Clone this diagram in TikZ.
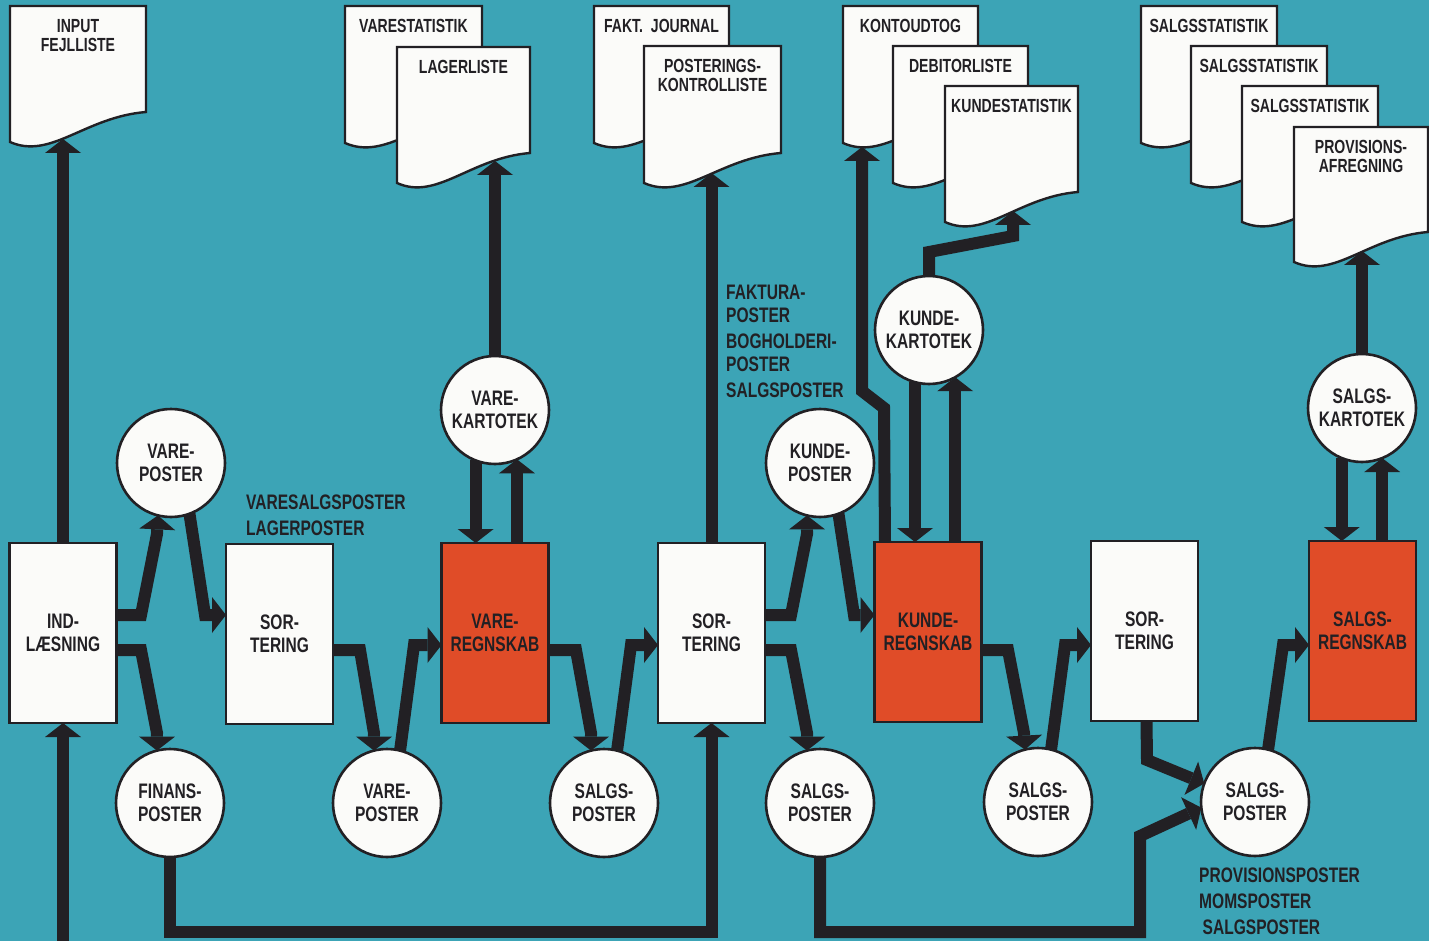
\documentclass[tikz,border=0pt]{standalone}
\usepackage{fontspec}
\setmainfont[FakeStretch=0.74]{Liberation Sans}
\usetikzlibrary{arrows.meta,calc}
\pgfdeclarelayer{bg}
\pgfsetlayers{bg,main}
\definecolor{sea}{RGB}{60,164,182}
\definecolor{brick}{RGB}{224,76,40}
\definecolor{ink}{RGB}{34,32,36}
\definecolor{paper}{RGB}{251,251,249}
\newcommand\lbl{\fontsize{21}{23}\selectfont\bfseries}
\newcommand\dlbl{\fontsize{19}{19}\selectfont\bfseries}
\newcommand\docsheet[4]{%
  \filldraw[doc] ({#1},{#2}) -- ({#3},{#2}) -- ({#3},{#4-30})
    .. controls ({#1+0.55*(#3-#1)},{#4-25}) and ({#1+0.3*(#3-#1)},{#4+18}) .. ({#1},{#4}) -- cycle;}
\begin{document}
\begin{tikzpicture}[x=1pt,y=-1pt,
  box/.style={draw=ink, line width=2.6pt, minimum width=107pt, minimum height=180pt,
    inner sep=0pt, outer sep=0pt, align=center, font=\lbl, text=ink},
  proc/.style={box, fill=paper},
  acct/.style={box, fill=brick},
  store/.style={circle, draw=ink, fill=paper, line width=2.6pt, minimum size=108pt,
    inner sep=0pt, outer sep=0pt, align=center, font=\lbl, text=ink},
  doc/.style={draw=ink, fill=paper, line width=2.4pt, line join=miter},
  doclabel/.style={anchor=north, inner sep=0pt, align=center, font=\dlbl, text=ink},
  note/.style={anchor=north west, inner sep=0pt, align=left, font=\lbl, text=ink},
  flow/.style={draw=ink, line width=12pt, line join=miter,
    -{Triangle[width=36pt,length=14pt,line width=0pt]}}]
\begin{pgfonlayer}{bg}
  \fill[sea] (0,0) rectangle (1429,941);
\end{pgfonlayer}
\useasboundingbox (0,0) rectangle (1429,941);

% documents
\docsheet{10}{6}{146}{142}
\node[doclabel] (d1) at (78,19) {INPUT\\FEJLLISTE};
\docsheet{345}{6}{482}{143}
\node[doclabel] (d2) at (413.5,19) {VARESTATISTIK};
\docsheet{397}{47}{530}{183}
\node[doclabel] (d3) at (463.5,60) {LAGERLISTE};
\docsheet{594}{6}{729}{143}
\node[doclabel] (d4) at (661.5,19) {FAKT.~~JOURNAL};
\docsheet{644}{46}{781}{183}
\node[doclabel] (d5) at (712.5,59) {POSTERINGS-\\KONTROLLISTE};
\docsheet{843}{6}{978}{143}
\node[doclabel] (d6) at (910.5,19) {KONTOUDTOG};
\docsheet{893}{46}{1028}{183}
\node[doclabel] (d7) at (960.5,59) {DEBITORLISTE};
\docsheet{945}{86}{1078}{222}
\node[doclabel] (d8) at (1011.5,99) {KUNDESTATISTIK};
\docsheet{1141}{6}{1277}{143}
\node[doclabel] (d9) at (1209,19) {SALGSSTATISTIK};
\docsheet{1191}{46}{1327}{183}
\node[doclabel] (d10) at (1259,59) {SALGSSTATISTIK};
\docsheet{1242}{86}{1378}{222}
\node[doclabel] (d11) at (1310,99) {SALGSSTATISTIK};
\docsheet{1294}{127}{1428}{262}
\node[doclabel] (d12) at (1361,140) {PROVISIONS-\\AFREGNING};

% process boxes
\node[proc] (ind)   at (63,633)     {IND-\\LÆSNING};
\node[proc] (sort1) at (279.5,634)  {SOR-\\TERING};
\node[acct] (vreg)  at (495,633)    {VARE-\\REGNSKAB};
\node[proc] (sort2) at (711.5,633)  {SOR-\\TERING};
\node[acct] (kreg)  at (928,632)    {KUNDE-\\REGNSKAB};
\node[proc] (sort3) at (1144.5,631) {SOR-\\TERING};
\node[acct] (sreg)  at (1362.5,631) {SALGS-\\REGNSKAB};

% stores
\node[store] (vp1) at (171,463)  {VARE-\\POSTER};
\node[store] (fp)  at (170,803)  {FINANS-\\POSTER};
\node[store] (vp2) at (387,803)  {VARE-\\POSTER};
\node[store] (vk)  at (495,410)  {VARE-\\KARTOTEK};
\node[store] (sp1) at (604,803)  {SALGS-\\POSTER};
\node[store] (kp)  at (820,463)  {KUNDE-\\POSTER};
\node[store] (sp2) at (820,803)  {SALGS-\\POSTER};
\node[store] (kk)  at (929,330)  {KUNDE-\\KARTOTEK};
\node[store] (sp3) at (1038,802) {SALGS-\\POSTER};
\node[store] (sp4) at (1255,802) {SALGS-\\POSTER};
\node[store] (sk)  at (1362,408) {SALGS-\\KARTOTEK};

% free labels
\node[note] (n1) at (246,495) {VARESALGSPOSTER\\[3pt]LAGERPOSTER};
\node[note] (n2) at (726,285) {FAKTURA-\\POSTER\\[3pt]BOGHOLDERI-\\POSTER\\[3pt]SALGSPOSTER};
\node[note] (n3) at (1199,868) {PROVISIONSPOSTER\\[3pt]MOMSPOSTER\\[3pt]\,SALGSPOSTER};

% named points
\coordinate (yup) at (0,615);
\coordinate (ydn) at (0,650);
\coordinate (yin) at (0,645);
\coordinate (d1in) at (63,139);
\coordinate (d3in) at (495,161);
\coordinate (d5in) at (711.5,173);
\coordinate (d6in) at (862,147);
\coordinate (d8in) at (1013,211);
\coordinate (d12in) at (1362,251);
\coordinate (edge) at (63,941);

\begin{pgfonlayer}{bg}
\draw[flow] (ind.north) -- (d1in);
\draw[flow] (edge) -- (ind.south);
\draw[flow] (ind.east |- yup) -- (141,615) -- (157,534) -- (vp1.256);
\draw[flow] (ind.east |- ydn) -- (141,650) -- (157,733) -- (fp.104);
\draw[flow] (vp1.-70) -- (205,615) -- (sort1.west |- yup);
\draw[flow] (sort1.east |- ydn) -- (360,650) -- (374,733) -- (vp2.104);
\draw[flow] (vp2.76) -- (414,645) -- (vreg.west |- yin);
\draw[flow] (vreg.east |- ydn) -- (576,650) -- (591,733) -- (sp1.104);
\draw[flow] (sp1.76) -- (631,645) -- (sort2.west |- yin);
\draw[flow] (vk.249) -- (vk.249 |- vreg.north);
\draw[flow] (vk.-66 |- vreg.north) -- (vk.-66);
\draw[flow] (vk.north) -- (d3in);
\draw[flow] (sort2.north) -- (d5in);
\draw[flow] (sort2.east |- yup) -- (791,615) -- (807,534) -- (kp.256);
\draw[flow] (kp.-70) -- (854,615) -- (kreg.west |- yup);
\draw[flow] (sort2.east |- ydn) -- (791,650) -- (807,733) -- (sp2.104);
\draw[flow] ($(kreg.north)+(-43,0)$) -- (884,408) -- (862,391) -- (d6in);
\draw[flow] (kk.255) -- (kk.255 |- kreg.north);
\draw[flow] (kk.-61 |- kreg.north) -- (kk.-61);
\draw[flow] (kk.north) -- (929,252) -- (1013,236) -- (d8in);
\draw[flow] (kreg.east |- ydn) -- (1008,650) -- (1024,733) -- (sp3.104);
\draw[flow] (sp3.76) -- (1065,645) -- (sort3.west |- yin);
\draw[flow] ($(sort3.south)+(2,0)$) -- (1147,760) -- (sp4.160);
\draw[flow] (sp2.south) -- (820,932) -- (1140,932) -- (1140,836) -- (sp4.186);
\draw[flow] (sp4.76) -- (1283,645) -- (sreg.west |- yin);
\draw[flow] (sk.248) -- (sk.248 |- sreg.north);
\draw[flow] (sk.-68 |- sreg.north) -- (sk.-68);
\draw[flow] (sk.north) -- (d12in);
\draw[flow] (fp.south) -- (170,932) -- (711.5,932) -- (sort2.south);
\end{pgfonlayer}
\end{tikzpicture}
\end{document}
